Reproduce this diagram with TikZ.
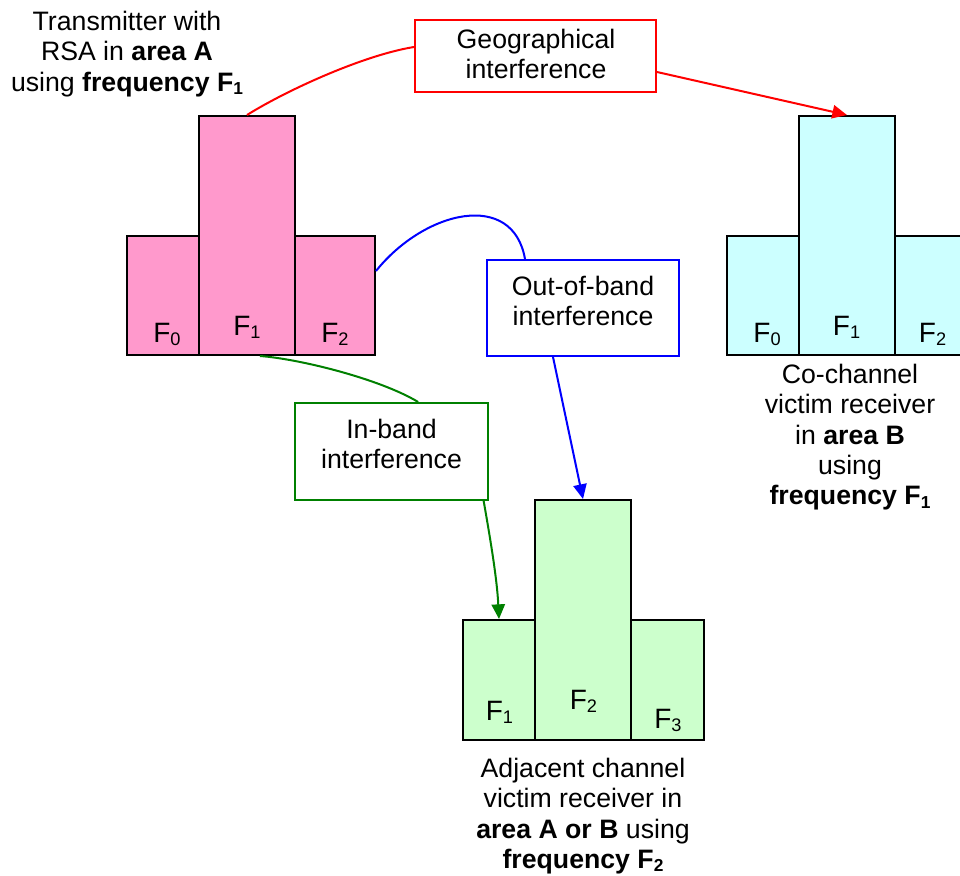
\documentclass[tikz,border=0pt]{standalone}
\usepackage{fontspec}
\setmainfont{Liberation Sans}
\usepackage{graphicx}
\usetikzlibrary{arrows.meta,calc}
\definecolor{pinkf}{HTML}{FF99CC}
\definecolor{cyanf}{HTML}{CCFFFF}
\definecolor{greenf}{HTML}{CCFFCC}
\definecolor{greenl}{HTML}{008000}
\newcommand\lsub[1]{\raisebox{-0.12em}{\scalebox{0.65}{#1}}}
\begin{document}
\begin{tikzpicture}[x=0.75pt,y=-0.75pt,
  barwh/.style 2 args={draw=black, line width=1.5pt, inner sep=0pt,
    minimum width=#1*0.75pt, minimum height=#2*0.75pt},
  ibox/.style={line width=1.5pt, fill=white, inner sep=0pt},
  lbl/.style={font=\fontsize{20}{22.75}\selectfont, align=center, inner sep=0pt, anchor=north},
  flab/.style={font=\fontsize{21}{21}\selectfont, inner sep=0pt, anchor=base},
  conn/.style={line width=1.5pt},
  tip/.style={-{Triangle[length=11pt,width=10pt]}}]
\useasboundingbox (0,0) rectangle (960,875);
\clip (0,0) rectangle (960,875);
% pink transmitter bars
\node[barwh={72}{119}, fill=pinkf] (pl) at (163,295.5) {};
\node[barwh={96}{239}, fill=pinkf] (pc) at (247,235.5) {};
\node[barwh={80}{119}, fill=pinkf] (pr) at (335,295.5) {};
\node[flab] (plt) at (167,342) {F\lsub{0}};
\node[flab] (pct) at (247,335) {F\lsub{1}};
\node[flab] (prt) at (335,342) {F\lsub{2}};
% cyan bars
\node[barwh={72}{119}, fill=cyanf] (cl) at (763,295.5) {};
\node[barwh={96}{239}, fill=cyanf] (cc) at (847,235.5) {};
\node[barwh={80}{119}, fill=cyanf] (cr) at (935,295.5) {};
\node[flab] (clt) at (767,342) {F\lsub{0}};
\node[flab] (cct) at (846.5,335) {F\lsub{1}};
\node[flab] (crt) at (932.5,342) {F\lsub{2}};
% green bars
\node[barwh={72}{120}, fill=greenf] (gl) at (499,680) {};
\node[barwh={96}{240}, fill=greenf] (gc) at (583,620) {};
\node[barwh={73}{120}, fill=greenf] (gr) at (667.5,680) {};
\node[flab] (glt) at (499.5,720) {F\lsub{1}};
\node[flab] (gct) at (583.5,709) {F\lsub{2}};
\node[flab] (grt) at (668,728) {F\lsub{3}};
% boxes
\node[ibox, draw=red, minimum width=241*0.75pt, minimum height=72*0.75pt] (geo) at (535.5,56) {};
\node[lbl] (geot) at (536,29) {Geographical\\interference};
\node[ibox, draw=blue, minimum width=192*0.75pt, minimum height=96*0.75pt] (oob) at (583,308) {};
\node[lbl] (oobt) at (583,276) {Out-of-band\\interference};
\node[ibox, draw=greenl, minimum width=193*0.75pt, minimum height=97*0.75pt] (ib) at (391.5,451.5) {};
\node[lbl] (ibt) at (391.5,419) {In-band\\interference};
% captions
\node[lbl] (tx) at (127,11) {Transmitter with\\RSA in \textbf{area A}\\using \textbf{frequency F\lsub{1}}};
\node[lbl] (cot) at (850,364) {Co-channel\\victim receiver\\in \textbf{area B}\\using\\\textbf{frequency F\lsub{1}}};
\node[lbl] (adt) at (583,758) {Adjacent channel\\victim receiver in\\\textbf{area A or B} using\\\textbf{frequency F\lsub{2}}};
% connectors
\draw[conn, red] (pc.north) .. controls +(40,-25) and +(-50,8) .. ([yshift=6.75pt]geo.west);
\draw[conn, red, tip] ([yshift=-12pt]geo.east) -- (cc.north);
\draw[conn, blue] ([yshift=18.4pt]pr.east) .. controls +(49,-61) and +(-12,-69) .. ([xshift=-43.5pt]oob.north);
\draw[conn, blue, tip] ([xshift=-22.5pt]oob.south) -- (gc.north);
\draw[conn, greenl] ([xshift=9.75pt]pc.south) .. controls +(40,3) and +(-38,-23) .. ([xshift=20pt]ib.north);
\draw[conn, greenl, tip] ([xshift=-4pt]ib.south east) .. controls +(7,40) and +(-2,-40) .. (gl.north);
\end{tikzpicture}
\end{document}
